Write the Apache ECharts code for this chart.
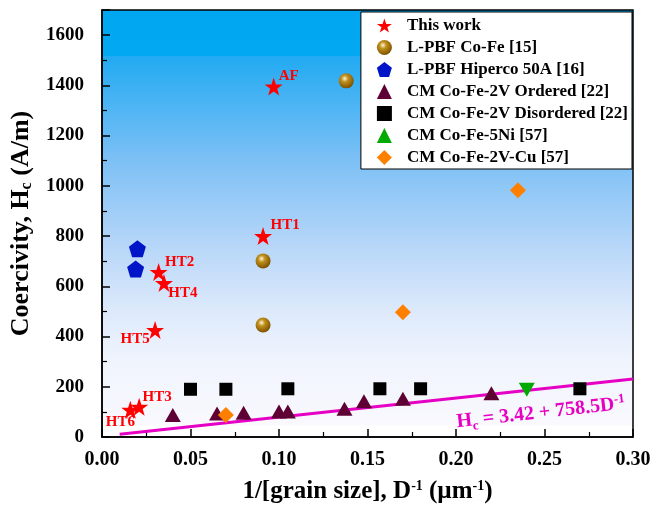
<!DOCTYPE html>
<html>
<head>
<meta charset="utf-8">
<script src="https://cdn.jsdelivr.net/npm/echarts@6/dist/echarts.min.js"></script>
<style>
  html, body { margin: 0; padding: 0; background: #fff; }
  #chart { width: 668px; height: 515px; }
</style>
</head>
<body>
<div id="chart"></div>
<script>
// values
var thisWorkNames = ['AF', 'HT1', 'HT2', 'HT4', 'HT5', 'HT3', 'HT6'];
var thisWorkX = [0.097, 0.091, 0.032, 0.035, 0.030, 0.021, 0.016];
var thisWorkY = [1395, 800, 657, 613, 426, 120, 108];

var coFeX = [0.138, 0.091, 0.091];
var coFeY = [1418, 701, 446];

var hipercoX = [0.020, 0.019];
var hipercoY = [749, 669];

var orderedX = [0.040, 0.065, 0.080, 0.100, 0.105, 0.137, 0.148, 0.170, 0.220];
var orderedY = [88, 94, 97, 102, 102, 112, 142, 152, 174];

var disorderedX = [0.050, 0.070, 0.105, 0.157, 0.180, 0.270];
var disorderedY = [190, 190, 192, 192, 192, 192];

var niX = [0.240];
var niY = [188];

var cuX = [0.235, 0.170, 0.070];
var cuY = [982, 497, 88];

// fit line end points: Hc = 3.42 + 758.5 D^-1
var fitX = [0.01, 0.30];
var fitY = [11, 231];

var yTicks = [0, 200, 400, 600, 800, 1000, 1200, 1400, 1600];

var FONT = 'Liberation Serif';

function pairs(xs, ys) {
    return xs.map(function (x, i) { return [x, ys[i]]; });
}

// label offsets for the "This work" points (style, not data)
var starLabelOffset = {
    AF: [15, -10], HT1: [22, -11], HT2: [21, -10], HT4: [19, 10],
    HT5: [-20, 9], HT3: [18, -10], HT6: [-10, 12]
};

var starPath = 'path://M50,0 L61.8,35.1 L98.1,35.1 L68.7,56.8 L79.4,91 L50,70 L20.6,91 L31.3,56.8 L1.9,35.1 L38.2,35.1 Z';
var pentaPath = 'path://M50,0 L100,38 L81,100 L19,100 L0,38 Z';

var chart = echarts.init(document.getElementById('chart'));

var starData = thisWorkNames.map(function (n, i) {
    return {
        name: n,
        value: [thisWorkX[i], thisWorkY[i]],
        label: { offset: starLabelOffset[n] }
    };
});

chart.setOption({
    animation: false,
    textStyle: { fontFamily: FONT },
    grid: {
        left: 102, right: 35, top: 10, bottom: 78,
        show: true,
        borderColor: '#000',
        borderWidth: 1.5,
        backgroundColor: {
            type: 'linear', x: 0, y: 0, x2: 0, y2: 1,
            colorStops: [
                { offset: 0, color: '#00a6f0' },
                { offset: 0.108, color: '#02a8f2' },
                { offset: 0.11, color: '#22aaf2' },
                { offset: 0.35, color: '#7cc0f5' },
                { offset: 0.55, color: '#b6d6f8' },
                { offset: 0.70, color: '#dce9fb' },
                { offset: 0.82, color: '#f0f4fd' },
                { offset: 0.97, color: '#f9f9fe' },
                { offset: 0.972, color: '#ffffff' },
                { offset: 1, color: '#ffffff' }
            ]
        }
    },
    legend: {
        orient: 'vertical',
        right: 36,
        top: 12,
        backgroundColor: '#fff',
        borderColor: '#000',
        borderWidth: 1,
        padding: [5, 4, 3, 16],
        itemWidth: 15,
        itemHeight: 15,
        itemGap: 5,
        textStyle: {
            fontFamily: FONT, fontWeight: 'bold', fontSize: 17, lineHeight: 15,
            color: '#000', padding: [0, 0, 0, 10]
        },
        data: ['This work', 'L-PBF Co-Fe [15]', 'L-PBF Hiperco 50A [16]',
               'CM Co-Fe-2V Ordered [22]', 'CM Co-Fe-2V Disordered [22]',
               'CM Co-Fe-5Ni [57]', 'CM Co-Fe-2V-Cu [57]']
    },
    xAxis: {
        type: 'value',
        min: 0, max: 0.3, interval: 0.05,
        name: '1/[grain size], D{sup|-1} (µm{sup|-1})',
        nameLocation: 'middle',
        nameGap: 42,
        nameTextStyle: {
            fontFamily: FONT, fontWeight: 'bold', fontSize: 25, color: '#000',
            rich: {
                sup: { fontFamily: FONT, fontWeight: 'bold', fontSize: 14, color: '#000', padding: [0, 0, 12, 0] }
            }
        },
        axisLine: { show: true, lineStyle: { color: '#000', width: 1.5 } },
        axisTick: { show: true, inside: true, length: 8, lineStyle: { color: '#000', width: 1.5 } },
        minorTick: { show: true, splitNumber: 2, length: 5, lineStyle: { color: '#000', width: 1.2 } },
        splitLine: { show: false },
        axisLabel: {
            margin: 13,
            fontFamily: FONT, fontWeight: 'bold', fontSize: 20, color: '#000',
            formatter: function (v) { return v.toFixed(2); }
        }
    },
    yAxis: {
        type: 'value',
        min: 0, max: 1700, interval: 200,
        name: 'Coercivity, H{sub|c} (A/m)',
        nameLocation: 'middle',
        nameGap: 64,
        nameTextStyle: {
            fontFamily: FONT, fontWeight: 'bold', fontSize: 26, color: '#000',
            rich: {
                sub: { fontFamily: FONT, fontWeight: 'bold', fontSize: 16, color: '#000', padding: [12, 0, 0, 0] }
            }
        },
        axisLine: { show: true, lineStyle: { color: '#000', width: 1.5 } },
        axisTick: { show: true, inside: true, length: 8, lineStyle: { color: '#000', width: 1.5 } },
        minorTick: { show: true, splitNumber: 2, length: 5, lineStyle: { color: '#000', width: 1.2 } },
        splitLine: { show: false },
        axisLabel: {
            margin: 18,
            showMaxLabel: false,
            fontFamily: FONT, fontWeight: 'bold', fontSize: 19, color: '#000',
            formatter: function (v) { return yTicks.indexOf(v) >= 0 ? String(v) : ''; }
        }
    },
    series: [
        {
            name: 'fit', type: 'line', data: pairs(fitX, fitY),
            showSymbol: false, symbol: 'none', z: 1,
            lineStyle: { color: '#e600c4', width: 3 }
        },
        {
            name: 'This work', type: 'scatter', data: starData,
            symbol: starPath, symbolSize: 18, z: 5,
            itemStyle: { color: '#ff0000', opacity: 1 },
            label: {
                show: true, position: 'inside', formatter: '{b}',
                fontFamily: FONT, fontWeight: 'bold', fontSize: 15, color: '#ff0000'
            }
        },
        {
            name: 'L-PBF Co-Fe [15]', type: 'scatter', data: pairs(coFeX, coFeY),
            symbol: 'circle', symbolSize: 15,
            itemStyle: {
                opacity: 1,
                color: {
                    type: 'radial', x: 0.4, y: 0.35, r: 0.65,
                    colorStops: [
                        { offset: 0, color: '#fff4d8' },
                        { offset: 0.35, color: '#c0901c' },
                        { offset: 1, color: '#7e5200' }
                    ]
                }
            }
        },
        {
            name: 'L-PBF Hiperco 50A [16]', type: 'scatter', data: pairs(hipercoX, hipercoY),
            symbol: pentaPath, symbolSize: 17,
            itemStyle: { color: '#0014c8', opacity: 1 }
        },
        {
            name: 'CM Co-Fe-2V Ordered [22]', type: 'scatter', data: pairs(orderedX, orderedY),
            symbol: 'triangle', symbolSize: [16, 14],
            itemStyle: { color: '#5e0034', opacity: 1 }
        },
        {
            name: 'CM Co-Fe-2V Disordered [22]', type: 'scatter', data: pairs(disorderedX, disorderedY),
            symbol: 'rect', symbolSize: 13,
            itemStyle: { color: '#000', opacity: 1 }
        },
        {
            name: 'CM Co-Fe-5Ni [57]', type: 'scatter', data: pairs(niX, niY),
            symbol: 'triangle', symbolRotate: 180, symbolSize: [16, 14],
            itemStyle: { color: '#00aa00', opacity: 1 }
        },
        {
            name: 'CM Co-Fe-2V-Cu [57]', type: 'scatter', data: pairs(cuX, cuY),
            symbol: 'diamond', symbolSize: 16,
            itemStyle: { color: '#ff8000', opacity: 1 }
        }
    ]
});

// equation written along the fit line
var eqPos = chart.convertToPixel({ gridIndex: 0 }, [0.248, 96]);
chart.setOption({
    graphic: [{
        type: 'text',
        x: eqPos[0], y: eqPos[1],
        rotation: 0.11,
        z: 10,
        style: {
            text: '{m|H}{s|c}{m| = 3.42 + 758.5D}{p|-1}',
            align: 'center',
            verticalAlign: 'middle',
            rich: {
                m: { fontFamily: FONT, fontWeight: 'bold', fontSize: 20, fill: '#e600c4' },
                s: { fontFamily: FONT, fontWeight: 'bold', fontSize: 13, fill: '#e600c4', padding: [12, 0, 0, 0] },
                p: { fontFamily: FONT, fontWeight: 'bold', fontSize: 13, fill: '#e600c4', padding: [0, 0, 10, 0] }
            }
        }
    }]
});
</script>
</body>
</html>
